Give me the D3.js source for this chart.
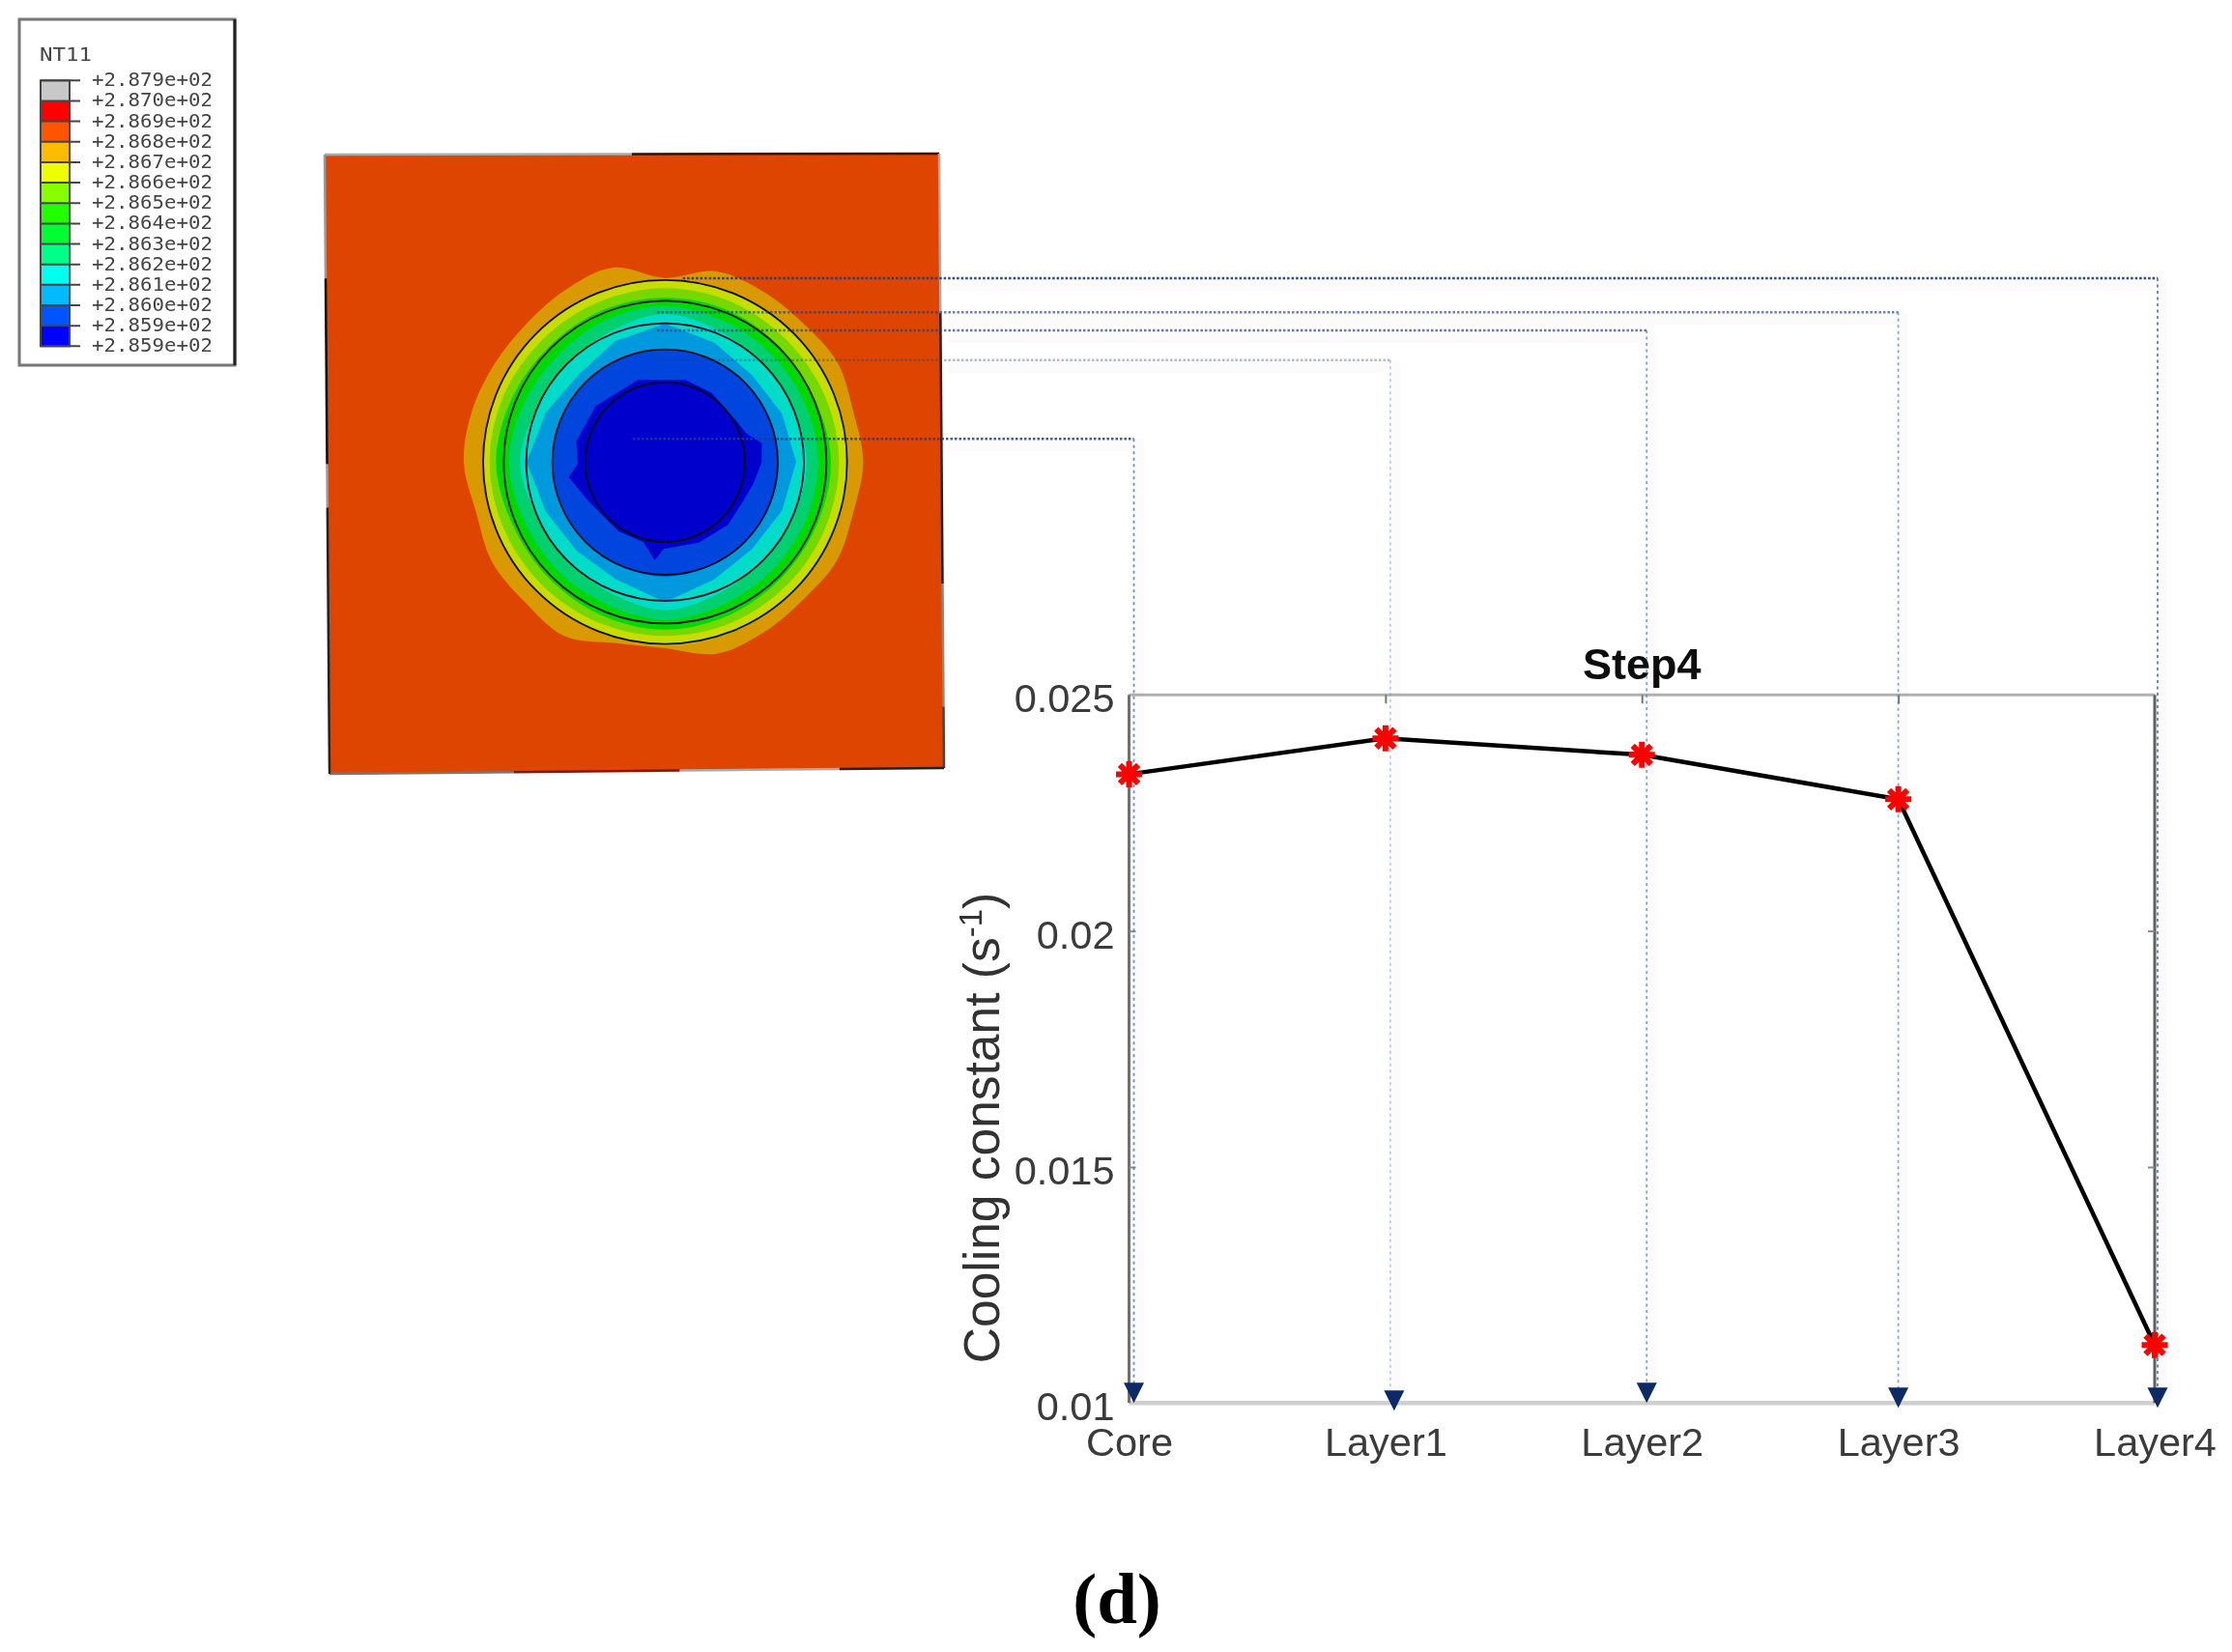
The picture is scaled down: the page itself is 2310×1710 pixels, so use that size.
<!DOCTYPE html>
<html lang="en">
<head>
  <meta charset="UTF-8">
  <title>Step4 cooling constant</title>
  <script src="https://d3js.org/d3.v7.min.js"></script>
  <style>
    body { margin: 0; background: #fff; }
    svg { display: block; }
    text { font-family: "Liberation Sans", Arial, sans-serif; }
    .legend text { font-family: "DejaVu Sans Mono", monospace; fill: #444; }
    .axis text { font-size: 41.5px; fill: #3a3a3a; }
    .axis .domain { display: none; }
  </style>
</head>
<body>
  <svg id="chart" width="2310" height="1710"></svg>

  <script>
    // Chart values
    const categories = ["Core", "Layer1", "Layer2", "Layer3", "Layer4"];
    const coolingConstant = [0.02332, 0.02408, 0.02373, 0.02279, 0.01123];
    const yTicks = [0.01, 0.015, 0.02, 0.025];
    const yTickLabels = ["0.01", "0.015", "0.02", "0.025"];

    // Legend of the temperature field
    const legendLabels = ["+2.879e+02", "+2.870e+02", "+2.869e+02", "+2.868e+02", "+2.867e+02",
      "+2.866e+02", "+2.865e+02", "+2.864e+02", "+2.863e+02", "+2.862e+02", "+2.861e+02",
      "+2.860e+02", "+2.859e+02", "+2.859e+02"];
    const legendColors = ["#c8c8c8", "#ff0000", "#ff5500", "#ffbb00", "#eeff00", "#88ff00", "#22ff00",
      "#00ff33", "#00ff88", "#00ffee", "#00bbff", "#0055ff", "#0000ff"];

    // Contour radii of the field, read every 22.5 degrees clockwise from the top
    const yellowRing = [565, 565, 562, 564, 565, 566, 566, 568, 570, 566, 566, 566, 565, 565, 564, 565];
    const limeRing = [540, 538, 535, 537, 540, 538, 538, 540, 540, 540, 540, 542, 545, 542, 538, 538];
    const greenRing = [510, 510, 505, 505, 515, 510, 510, 515, 520, 515, 510, 512, 525, 515, 508, 510];
    const springRing = [485, 475, 470, 470, 475, 472, 472, 478, 490, 478, 474, 474, 485, 475, 470, 478];
    const cyanRing = [460, 440, 428, 430, 440, 432, 430, 440, 460, 440, 430, 432, 450, 432, 428, 440];
    const skyRing = [430, 401, 382, 393, 407, 393, 382, 395, 435, 395, 389, 401, 430, 401, 382, 406];
    const blueRing = [350, 348, 350, 350, 350, 352, 352, 352, 355, 352, 350, 350, 350, 348, 350, 350];
    // Outer amber contour, every 15 degrees
    const amberRing = [572, 613, 611, 608, 618, 605, 615, 605, 615, 605, 611, 616,
      578, 582, 624, 615, 620, 607, 625, 620, 611, 608, 618, 625];
    // Deep blue contour is not regular, so it has its own angles
    const deepAngles = [0, 14, 34, 61, 70, 79, 90, 103, 117, 135, 157, 181, 186, 195, 214, 242, 261, 269, 283, 309, 342];
    const deepRadii = [255, 263, 259, 257, 266, 306, 300, 283, 271, 276, 271, 270, 307, 258, 259, 266, 303, 271, 283, 277, 269];
    const layerRadii = [248, 350, 431, 501, 565];

    const ringColors = ["#d89a00", "#c8dc00", "#77d800", "#00d800", "#00d070", "#00dcc8", "#0099dd", "#0044dd", "#0000cc"];

    // Leader lines from the disc to the axis, one per category
    const leaderRise = [72, 317, 409, 465, 571];
    const leaderStart = [-100, -25, -25, -25, 55];
    const leaderShift = [5, 5, 5, 0, 3];
    const arrowShift = [5, 9, 5, 0, 3];
    const arrowDrop = [0, 8, 0, 5, 5];
    const leaderOpacity = [0.85, 0.35, 0.7, 0.65, 0.95];

    const svg = d3.select("#chart");

    const defs = svg.append("defs");
    defs.append("filter").attr("id", "soft")
      .append("feGaussianBlur").attr("stdDeviation", 0.7);

    // ---- Legend ----
    const legendY = d3.scalePoint().domain(d3.range(legendLabels.length)).range([83.3, 358.3]);
    const legend = svg.append("g").attr("class", "legend").attr("filter", "url(#soft)");

    legend.append("rect")
      .attr("x", 20).attr("y", 20).attr("width", 223).attr("height", 358)
      .attr("fill", "#fff").attr("stroke", "#777").attr("stroke-width", 3);
    legend.append("line")
      .attr("x1", 243).attr("x2", 243).attr("y1", 20).attr("y2", 378)
      .attr("stroke", "#222").attr("stroke-width", 3);

    legend.append("text")
      .attr("x", 41).attr("y", 62.5)
      .attr("font-size", 20).attr("textLength", 54)
      .attr("lengthAdjust", "spacingAndGlyphs")
      .text("NT11");

    legend.selectAll(".swatch")
      .data(legendColors)
      .enter()
      .append("rect")
      .attr("class", "swatch")
      .attr("x", 42).attr("width", 30)
      .attr("y", (d, i) => legendY(i))
      .attr("height", (d, i) => legendY(i + 1) - legendY(i))
      .attr("fill", d => d);

    legend.append("rect")
      .attr("x", 42).attr("width", 30)
      .attr("y", legendY(0))
      .attr("height", legendY(legendLabels.length - 1) - legendY(0))
      .attr("fill", "none").attr("stroke", "#444").attr("stroke-width", 2);

    legend.selectAll(".ltick")
      .data(legendLabels)
      .enter()
      .append("line")
      .attr("class", "ltick")
      .attr("x1", 42).attr("x2", 83)
      .attr("y1", (d, i) => legendY(i))
      .attr("y2", (d, i) => legendY(i))
      .attr("stroke", "#444").attr("stroke-width", 2);

    legend.selectAll(".llabel")
      .data(legendLabels)
      .enter()
      .append("text")
      .attr("class", "llabel")
      .attr("x", 95)
      .attr("y", (d, i) => legendY(i) + 6)
      .attr("font-size", 20).attr("textLength", 125)
      .attr("lengthAdjust", "spacingAndGlyphs")
      .text(d => d);

    // ---- Contour plot ----
    const cx = 688.3, cy = 478.3;
    const field = d3.scaleLinear().domain([0, 615]).range([0, 205]);
    const plate = svg.append("g").attr("filter", "url(#soft)");
    const corners = [[336, 160], [972, 159], [977, 795], [341, 801]];

    plate.append("polygon")
      .attr("points", corners.join(" "))
      .attr("fill", "#dd4400");

    // The plate outline changes from dark to grey along each side
    const edgeRuns = [
      [0, 1, [[0, 0.5, "#aaa"], [0.5, 1, "#3a1000"]]],
      [1, 2, [[0, 0.26, "#aaa"], [0.26, 0.7, "#222"], [0.7, 0.9, "#888"], [0.9, 1, "#444"]]],
      [3, 2, [[0, 0.3, "#777"], [0.3, 0.57, "#7a1a00"], [0.57, 0.83, "#aaa"], [0.83, 1, "#222"]]],
      [0, 3, [[0, 0.2, "#999"], [0.2, 0.5, "#111"], [0.5, 0.57, "#999"], [0.57, 1, "#222"]]]
    ];
    edgeRuns.forEach(([a, b, runs]) => {
      const along = d3.interpolate(corners[a], corners[b]);
      runs.forEach(([t0, t1, color]) => {
        plate.append("line")
          .attr("x1", along(t0)[0]).attr("y1", along(t0)[1])
          .attr("x2", along(t1)[0]).attr("y2", along(t1)[1])
          .attr("stroke", color).attr("stroke-width", 2.5);
      });
    });

    const ringPath = (radii, angles, curve) => {
      const angle = angles
        ? (d, i) => angles[i] * Math.PI / 180
        : (d, i) => i * 2 * Math.PI / radii.length;
      return d3.lineRadial().angle(angle).radius(d => field(d)).curve(curve)(radii);
    };

    const disc = plate.append("g").attr("transform", `translate(${cx},${cy})`);
    const rings = [amberRing, yellowRing, limeRing, greenRing, springRing, cyanRing, skyRing, blueRing];

    disc.selectAll(".band")
      .data(rings)
      .enter()
      .append("path")
      .attr("class", "band")
      .attr("d", d => ringPath(d, null, d === skyRing ? d3.curveLinearClosed : d3.curveCatmullRomClosed))
      .attr("fill", (d, i) => ringColors[i]);

    disc.append("path")
      .attr("d", ringPath(deepRadii, deepAngles, d3.curveLinearClosed))
      .attr("fill", ringColors[8]);

    disc.selectAll(".layer")
      .data(layerRadii)
      .enter()
      .append("circle")
      .attr("class", "layer")
      .attr("r", d => field(d))
      .attr("fill", "none")
      .attr("stroke", "#0a0a14")
      .attr("stroke-width", 1.8);

    // ---- Line chart ----
    const x = d3.scalePoint().domain(categories).range([1168.5, 2230]);
    const y = d3.scaleLinear().domain([0.01, 0.025]).range([1452.3, 719.3]);
    const chart = svg.append("g").attr("filter", "url(#soft)");

    const leaderY = i => cy - field(leaderRise[i]);
    const leaderX = (d, i) => x(d) + leaderShift[i];
    const plateRight = corners[2][0];

    // Faint halo right of the plate, under the leader lines
    const haloPath = (d, i) => {
      const p = d3.path();
      p.moveTo(plateRight, leaderY(i));
      p.lineTo(leaderX(d, i), leaderY(i));
      p.lineTo(leaderX(d, i), y(0.01) + arrowDrop[i] - 21);
      return p.toString();
    };

    chart.selectAll(".halo")
      .data(categories)
      .enter()
      .append("path")
      .attr("class", "halo")
      .attr("d", haloPath)
      .attr("transform", "translate(4,7)")
      .attr("fill", "none")
      .attr("stroke", "#fbfbfb")
      .attr("stroke-width", 12);

    chart.append("line")
      .attr("x1", x("Core")).attr("x2", x("Layer4"))
      .attr("y1", y(0.025)).attr("y2", y(0.025))
      .attr("stroke", "#b0b0b0").attr("stroke-width", 3);
    chart.append("line")
      .attr("x1", x("Core")).attr("x2", x("Layer4"))
      .attr("y1", y(0.01)).attr("y2", y(0.01))
      .attr("stroke", "#cfcfcf").attr("stroke-width", 4.5);
    chart.append("line")
      .attr("x1", x("Core")).attr("x2", x("Core"))
      .attr("y1", y(0.025)).attr("y2", y(0.01))
      .attr("stroke", "#707070").attr("stroke-width", 3);
    chart.append("line")
      .attr("x1", x("Layer4")).attr("x2", x("Layer4"))
      .attr("y1", y(0.025)).attr("y2", y(0.01))
      .attr("stroke", "#606060").attr("stroke-width", 3);

    const yAxis = chart.append("g")
      .attr("class", "axis")
      .attr("transform", `translate(${x("Core")},0)`)
      .call(d3.axisLeft(y).tickValues(yTicks).tickSize(0).tickPadding(15)
        .tickFormat((d, i) => yTickLabels[i]));
    yAxis.selectAll("text").attr("dy", "0.42em");

    chart.append("g")
      .attr("transform", `translate(${x("Layer4")},0)`)
      .call(d3.axisLeft(y).tickValues(yTicks.slice(1, 3)).tickSize(7).tickFormat(""))
      .call(g => g.select(".domain").remove())
      .selectAll("line").attr("stroke", "#888").attr("stroke-width", 2);

    chart.append("g")
      .attr("transform", `translate(${x("Core")},0)`)
      .call(d3.axisRight(y).tickValues(yTicks.slice(1, 3)).tickSize(7).tickFormat(""))
      .call(g => g.select(".domain").remove())
      .selectAll("line").attr("stroke", "#888").attr("stroke-width", 2);

    const xAxis = chart.append("g")
      .attr("class", "axis")
      .attr("transform", `translate(0,${y(0.01)})`)
      .call(d3.axisBottom(x).tickSize(0));
    xAxis.selectAll("text").attr("y", 55).attr("dy", 0);

    chart.append("g")
      .attr("transform", `translate(0,${y(0.025)})`)
      .call(d3.axisBottom(x).tickValues(categories.slice(1, 4)).tickSize(9).tickFormat(""))
      .call(g => g.select(".domain").remove())
      .selectAll("line").attr("stroke", "#777").attr("stroke-width", 2);

    // Leader lines: dense dots across, thin light dashes down
    chart.selectAll(".across")
      .data(categories)
      .enter()
      .append("line")
      .attr("class", "across")
      .attr("x1", (d, i) => cx + field(leaderStart[i]))
      .attr("x2", leaderX)
      .attr("y1", (d, i) => leaderY(i))
      .attr("y2", (d, i) => leaderY(i))
      .attr("stroke", "#22407f")
      .attr("stroke-width", 2.5)
      .attr("stroke-dasharray", "2.5 2")
      .attr("opacity", (d, i) => leaderOpacity[i]);

    chart.selectAll(".down")
      .data(categories)
      .enter()
      .append("line")
      .attr("class", "down")
      .attr("x1", leaderX)
      .attr("x2", leaderX)
      .attr("y1", (d, i) => leaderY(i))
      .attr("y2", (d, i) => y(0.01) + arrowDrop[i] - 20)
      .attr("stroke", "#5a78b4")
      .attr("stroke-width", 1.8)
      .attr("stroke-dasharray", "3 3.5")
      .attr("opacity", (d, i) => leaderOpacity[i]);

    // Cooling constant line
    const line = d3.line()
      .x((d, i) => x(categories[i]))
      .y(d => y(d));

    chart.append("path")
      .datum(coolingConstant)
      .attr("d", line)
      .attr("fill", "none")
      .attr("stroke", "#000")
      .attr("stroke-width", 4.5);

    // Eight spoke star marker
    const star = {
      draw(context, size) {
        const r = Math.sqrt(size);
        d3.range(4).forEach(k => {
          const a = k * Math.PI / 4;
          context.moveTo(-r * Math.cos(a), -r * Math.sin(a));
          context.lineTo(r * Math.cos(a), r * Math.sin(a));
        });
      }
    };

    chart.selectAll(".marker")
      .data(coolingConstant)
      .enter()
      .append("path")
      .attr("class", "marker")
      .attr("d", d3.symbol().type(star).size(182))
      .attr("transform", (d, i) => `translate(${x(categories[i])},${y(d)})`)
      .attr("fill", "none")
      .attr("stroke", "#ff0000")
      .attr("stroke-width", 6);

    // Arrow heads: the tip of the symbol sits on its origin
    const arrowHead = {
      draw(context, size) {
        const h = Math.sqrt(size);
        context.moveTo(-h / 2, -h);
        context.lineTo(h / 2, -h);
        context.lineTo(0, 0);
        context.closePath();
      }
    };

    chart.selectAll(".arrow")
      .data(categories)
      .enter()
      .append("path")
      .attr("class", "arrow")
      .attr("d", d3.symbol().type(arrowHead).size(441))
      .attr("transform", (d, i) => `translate(${x(d) + arrowShift[i]},${y(0.01) + arrowDrop[i]})`)
      .attr("fill", "#0a2a66");

    // Title and labels
    chart.append("text")
      .attr("x", x("Layer2")).attr("y", 703)
      .attr("text-anchor", "middle")
      .attr("font-size", 45).attr("font-weight", "bold")
      .attr("fill", "#111")
      .text("Step4");

    const yLabel = chart.append("text")
      .attr("transform", "translate(1034,1167.5) rotate(-90)")
      .attr("text-anchor", "middle")
      .attr("font-size", 51.5)
      .attr("fill", "#333")
      .text("Cooling constant (s");
    yLabel.append("tspan").attr("dy", -18).attr("font-size", 33).text("-1");
    yLabel.append("tspan").attr("dy", 18).text(")");

    svg.append("text")
      .attr("x", 1156).attr("y", 1680)
      .attr("text-anchor", "middle")
      .attr("font-size", 75).attr("font-weight", "bold")
      .style("font-family", "'Liberation Serif', serif")
      .attr("fill", "#000")
      .text("(d)");
  </script>
</body>
</html>
